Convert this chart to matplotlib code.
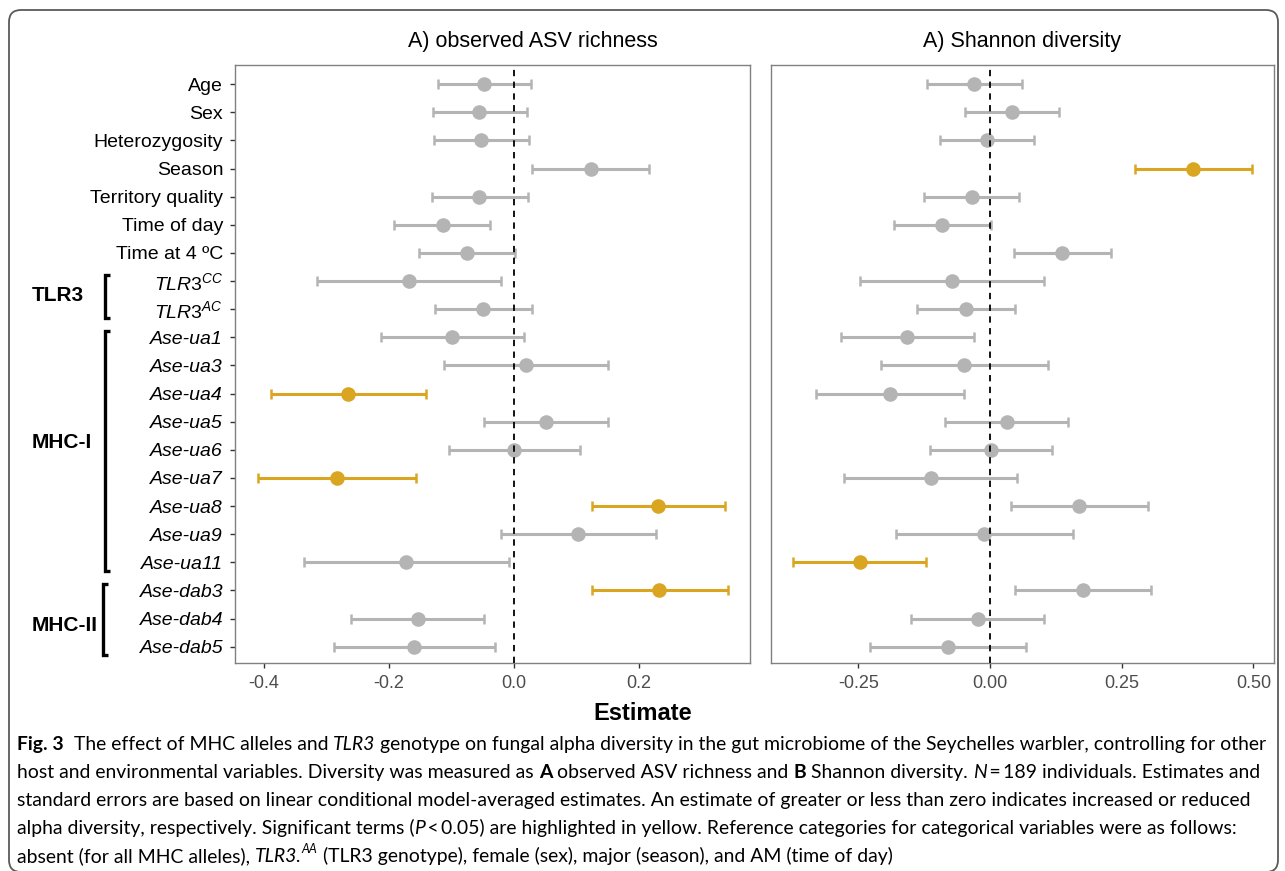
import matplotlib
matplotlib.use("Agg")
import matplotlib.pyplot as plt
import matplotlib.transforms as mtrans
from matplotlib.patches import FancyBboxPatch
from matplotlib.font_manager import FontProperties

W, H = 1285, 871
plt.rcParams['font.family'] = ['Liberation Sans', 'DejaVu Sans']
plt.rcParams['mathtext.fontset'] = 'custom'
plt.rcParams['mathtext.rm'] = 'Liberation Sans'
plt.rcParams['mathtext.it'] = 'Liberation Sans:italic'
plt.rcParams['mathtext.bf'] = 'Liberation Sans:bold'

# ---------------- data ----------------
terms = ["Age", "Sex", "Heterozygosity", "Season", "Territory quality", "Time of day",
         "Time at 4 ºC", "TLR3CC", "TLR3AC", "Ase-ua1", "Ase-ua3", "Ase-ua4", "Ase-ua5",
         "Ase-ua6", "Ase-ua7", "Ase-ua8", "Ase-ua9", "Ase-ua11", "Ase-dab3", "Ase-dab4",
         "Ase-dab5"]
tick_labels = ["Age", "Sex", "Heterozygosity", "Season", "Territory quality", "Time of day",
               "Time at 4 ºC", r"$\mathit{TLR3}^{\mathit{CC}}$", r"$\mathit{TLR3}^{\mathit{AC}}$",
               "Ase-ua1", "Ase-ua3", "Ase-ua4", "Ase-ua5", "Ase-ua6", "Ase-ua7", "Ase-ua8",
               "Ase-ua9", "Ase-ua11", "Ase-dab3", "Ase-dab4", "Ase-dab5"]
italic_terms = ["Ase-ua1", "Ase-ua3", "Ase-ua4", "Ase-ua5", "Ase-ua6", "Ase-ua7", "Ase-ua8",
                "Ase-ua9", "Ase-ua11", "Ase-dab3", "Ase-dab4", "Ase-dab5"]

rich_est = [-0.048, -0.055, -0.053, 0.123, -0.056, -0.114, -0.075, -0.168, -0.050, -0.099,
            0.019, -0.265, 0.052, 0.001, -0.283, 0.230, 0.103, -0.172, 0.232, -0.154, -0.159]
rich_lo = [-0.121, -0.129, -0.128, 0.029, -0.131, -0.191, -0.151, -0.315, -0.126, -0.213,
           -0.112, -0.388, -0.048, -0.103, -0.409, 0.125, -0.021, -0.336, 0.125, -0.261, -0.287]
rich_hi = [0.028, 0.021, 0.024, 0.216, 0.022, -0.038, 0.002, -0.020, 0.029, 0.017,
           0.151, -0.141, 0.151, 0.106, -0.157, 0.338, 0.228, -0.008, 0.342, -0.048, -0.030]
rich_sig = ["Ase-ua4", "Ase-ua7", "Ase-ua8", "Ase-dab3"]

shan_est = [-0.030, 0.041, -0.006, 0.386, -0.035, -0.091, 0.137, -0.072, -0.045, -0.158,
            -0.049, -0.191, 0.032, 0.001, -0.113, 0.169, -0.011, -0.248, 0.177, -0.023, -0.080]
shan_lo = [-0.119, -0.048, -0.095, 0.275, -0.126, -0.182, 0.045, -0.247, -0.138, -0.284,
           -0.208, -0.331, -0.085, -0.114, -0.277, 0.039, -0.178, -0.374, 0.048, -0.150, -0.228]
shan_hi = [0.060, 0.130, 0.083, 0.497, 0.055, 0.001, 0.229, 0.103, 0.048, -0.031,
           0.110, -0.050, 0.148, 0.117, 0.051, 0.299, 0.158, -0.122, 0.305, 0.103, 0.069]
shan_sig = ["Season", "Ase-ua11"]

rich_ticks = [-0.4, -0.2, 0.0, 0.2]
rich_ticklabels = ["-0.4", "-0.2", "0.0", "0.2"]
shan_ticks = [-0.25, 0.0, 0.25, 0.50]
shan_ticklabels = ["-0.25", "0.00", "0.25", "0.50"]

titles = ["A) observed ASV richness", "A) Shannon diversity"]
xlabel = "Estimate"

groups = [("TLR3", "TLR3CC", "TLR3AC"), ("MHC-I", "Ase-ua1", "Ase-ua11"),
          ("MHC-II", "Ase-dab3", "Ase-dab5")]

caption_lines = [
    [("Fig. 3", "bold", "normal"), ("  The effect of MHC alleles and ", "normal", "normal"),
     ("TLR3", "normal", "italic"),
     (" genotype on fungal alpha diversity in the gut microbiome of the Seychelles warbler, controlling for other", "normal", "normal")],
    [("host and environmental variables. Diversity was measured as ", "normal", "normal"),
     ("A", "bold", "normal"), (" observed ASV richness and ", "normal", "normal"),
     ("B", "bold", "normal"), (" Shannon diversity. ", "normal", "normal"),
     ("N", "normal", "italic"), ("\u2009=\u2009189 individuals. Estimates and", "normal", "normal")],
    [("standard errors are based on linear conditional model-averaged estimates. An estimate of greater or less than zero indicates increased or reduced", "normal", "normal")],
    [("alpha diversity, respectively. Significant terms (", "normal", "normal"),
     ("P", "normal", "italic"), ("\u2009<\u20090.05) are highlighted in yellow. Reference categories for categorical variables were as follows:", "normal", "normal")],
    [("absent (for all MHC alleles), ", "normal", "normal"), ("TLR3.", "normal", "italic"),
     ("AA", "sup", "italic"),
     (" (TLR3 genotype), female (sex), major (season), and AM (time of day)", "normal", "normal")],
]

# ---------------- style ----------------
GRAY = "#B4B4B4"
GOLD = "#DAA520"
FRAME = "#808080"

fig = plt.figure(figsize=(W / 100, H / 100), dpi=100)

def fx(px):
    return px / W

def fy(py):
    return 1 - py / H

axL = fig.add_axes([fx(235), fy(663), fx(750) - fx(235), fy(65) - fy(663)])
axR = fig.add_axes([fx(770.5), fy(663), fx(1273.5) - fx(770.5), fy(65) - fy(663)])

n = len(terms)
ypos = {t: n - i for i, t in enumerate(terms)}
ys = [ypos[t] for t in terms]

def panel(ax, est, lo, hi, sig, xlim, ticks, ticklabels):
    for t, e, l, h, y in zip(terms, est, lo, hi, ys):
        c = GOLD if t in sig else GRAY
        ax.errorbar([e], [y], xerr=[[e - l], [h - e]], fmt='none', ecolor=c,
                    elinewidth=2.2, capsize=3.8, capthick=1.8, zorder=3)
        ax.plot([e], [y], 'o', color=c, markersize=10.5, markeredgewidth=0, zorder=3.5)
    ax.axvline(0, color="black", lw=1.3, ls=(0, (3.5, 3.0)), zorder=4)
    ax.set_xlim(*xlim)
    ax.set_ylim(0.42, n + 0.68)
    ax.set_xticks(ticks)
    ax.set_xticklabels(ticklabels)
    for s in ax.spines.values():
        s.set_color(FRAME)
        s.set_linewidth(1.0)
    ax.tick_params(axis='x', colors="#333333", labelcolor="#4D4D4D", labelsize=13,
                   length=3.5, width=1.0, pad=5)

panel(axL, rich_est, rich_lo, rich_hi, rich_sig, (-0.446, 0.378), rich_ticks, rich_ticklabels)
panel(axR, shan_est, shan_lo, shan_hi, shan_sig, (-0.417, 0.538), shan_ticks, shan_ticklabels)

axL.set_yticks(ys)
axL.set_yticklabels(tick_labels)
axL.tick_params(axis='y', colors="#333333", labelcolor="black", labelsize=14,
                length=3.5, width=1.0, pad=5)
for lab, t in zip(axL.get_yticklabels(), terms):
    if t in italic_terms:
        lab.set_fontstyle("italic")
axR.set_yticks([])

# titles and x label
fig.text(fx(533), fy(41), titles[0], ha='center', va='center', fontsize=15.5)
fig.text(fx(1022.5), fy(41), titles[1], ha='center', va='center', fontsize=15.5)
fig.text(fx(643), fy(714), xlabel, ha='center', va='center', fontsize=17, fontweight='bold')

# group brackets
btr = mtrans.blended_transform_factory(fig.transFigure, axL.transData)
label_y = {"TLR3": None, "MHC-I": 8.27, "MHC-II": 1.75}
bracket_x = {"TLR3": 105, "MHC-I": 105, "MHC-II": 103}
for name, first, last in groups:
    ytop = ypos[first] + 0.22
    ybot = ypos[last] - 0.3
    bx = bracket_x[name]
    fig.add_artist(plt.Line2D([fx(bx + 5), fx(bx), fx(bx), fx(bx + 5)],
                              [ytop, ytop, ybot, ybot], transform=btr, color="black",
                              lw=2.4, solid_joinstyle='miter', solid_capstyle='butt'))
    ly = label_y[name] if label_y[name] is not None else (ypos[first] + ypos[last]) / 2
    fig.text(fx(32), ly, name, transform=btr, ha='left', va='center', fontsize=15,
             fontweight='bold')

# outer rounded border
border = FancyBboxPatch((9, -1), 1269, 862, boxstyle="round,pad=0,rounding_size=12",
                        transform=mtrans.IdentityTransform(), fill=False,
                        edgecolor="#5A5A5A", lw=1.3)
fig.add_artist(border)

# caption
CAP_FONT = ['Lato', 'Open Sans', 'DejaVu Sans']
fig.canvas.draw()
renderer = fig.canvas.get_renderer()

def make_props(weight, style, size):
    return FontProperties(family=CAP_FONT, weight=weight, style=style, size=size)

def text_width(s, fp):
    t = fig.text(0, 0, s, fontproperties=fp)
    w = t.get_window_extent(renderer).width
    t.remove()
    return w

def seg_width(s, fp):
    return text_width("|" + s + "|", fp) - text_width("||", fp)

def line_width(segs, size):
    w = 0
    for s, wt, st in segs:
        if wt == "sup":
            w += seg_width(s, make_props("normal", st, size * 0.65))
        else:
            w += seg_width(s, make_props(wt, st, size))
    return w

base = 10.0
target = 1245.0
cap_size = base * target / line_width(caption_lines[0], base)

for i, segs in enumerate(caption_lines):
    x = 17.0
    yb = 750 + 28.0 * i
    for s, wt, st in segs:
        if wt == "sup":
            fp = make_props("normal", st, cap_size * 0.65)
            fig.text(fx(x), fy(yb - 0.45 * cap_size * 1.39), s, fontproperties=fp,
                     ha='left', va='baseline')
            x += seg_width(s, fp)
        else:
            fp = make_props(wt, st, cap_size)
            lead = len(s) - len(s.lstrip(" "))
            core = s.strip(" ")
            x += seg_width(" " * lead, fp) if lead else 0
            fig.text(fx(x), fy(yb), core, fontproperties=fp, ha='left', va='baseline')
            x += seg_width(s[lead:], fp)

fig.savefig("out.png", dpi=100)
